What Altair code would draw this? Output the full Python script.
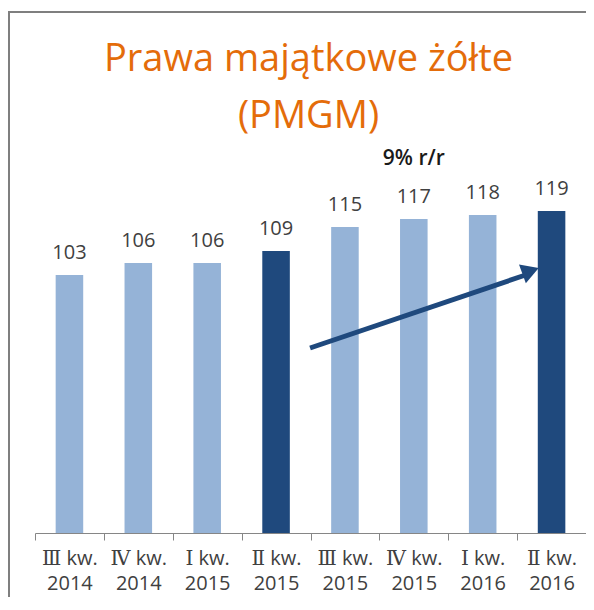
import altair as alt
import pandas as pd

# ---- data ----
quarters = ["Ⅲ kw.", "Ⅳ kw.", "Ⅰ kw.", "Ⅱ kw.", "Ⅲ kw.", "Ⅳ kw.", "Ⅰ kw.", "Ⅱ kw."]
years = ["2014", "2014", "2015", "2015", "2015", "2015", "2016", "2016"]
values = [103, 106, 106, 109, 115, 117, 118, 119]
kinds = ["base", "base", "base", "hl", "base", "base", "base", "hl"]

categories = [f"{q}|{y}" for q, y in zip(quarters, years)]

title_lines = ["Prawa majątkowe żółte", "(PMGM)"]
title_levels = [154.0, 139.75]   # vertical placement of title lines, in value units

Y_MIN = 38.5
Y_MAX = 135

# annotation (arrow from bar 4 to bar 8, and the growth text)
arrow_from = [categories[3], 84.75]
arrow_to = [categories[7], 103.0]
head_at = [categories[7], 104.0]
note_text = ["9% r/r"]
note_at = [categories[5], 130.5]

df = pd.DataFrame({"cat": categories, "value": values, "kind": kinds})
arrow_df = pd.DataFrame({"x": [arrow_from[0]], "y": [arrow_from[1]],
                         "x2": [arrow_to[0]], "y2": [arrow_to[1]]})
head_df = pd.DataFrame({"x": [head_at[0]], "y": [head_at[1]]})
note_df = pd.DataFrame({"x": [note_at[0]], "y": [note_at[1]], "t": note_text})
title_df = pd.DataFrame({"t": title_lines, "y": title_levels})

W, H = 551, 386

xscale = alt.Scale(domain=categories, paddingInner=0, paddingOuter=0)
yscale = alt.Scale(domain=[Y_MIN, Y_MAX], zero=False, nice=False)

x_enc = alt.X("cat:N", scale=xscale, sort=None, axis=alt.Axis(
    title=None, labelAngle=0, labelExpr="split(datum.label, '|')",
    labelFont="Open Sans, DejaVu Serif", labelFontSize=20, labelColor="#404040",
    labelLineHeight=25, labelPadding=8, tickBand="extent", tickSize=7,
    tickColor="#868686", domainColor="#868686", grid=False))

frame = alt.Chart(df).mark_rect(filled=False, stroke="#7f7f7f", strokeWidth=2).encode(
    x=alt.value(-26), x2=alt.value(W + 200), y=alt.value(-135), y2=alt.value(H + 300))

bars = alt.Chart(df).mark_bar(width=alt.RelativeBandSize(0.4)).encode(
    x=x_enc,
    y=alt.Y("value:Q", scale=yscale, axis=None),
    y2=alt.datum(Y_MIN),
    color=alt.Color("kind:N", scale=alt.Scale(domain=["base", "hl"],
                                              range=["#95B3D7", "#1F497D"]), legend=None),
)

labels = alt.Chart(df).mark_text(font="Open Sans", fontSize=20, color="#404040",
                                 baseline="alphabetic", dy=-16).encode(
    x=alt.X("cat:N", scale=xscale, sort=None),
    y=alt.Y("value:Q", scale=yscale),
    text=alt.Text("value:Q"),
)

arrow = alt.Chart(arrow_df).mark_rule(color="#1F497D", strokeWidth=5,
                                      xOffset=34, x2Offset=-26).encode(
    x=alt.X("x:N", scale=xscale, sort=None),
    x2="x2:N",
    y=alt.Y("y:Q", scale=yscale),
    y2="y2:Q",
)

head = alt.Chart(head_df).mark_point(shape="triangle-up", filled=True, size=400,
                                     color="#1F497D", opacity=1, angle=70,
                                     xOffset=-21).encode(
    x=alt.X("x:N", scale=xscale, sort=None),
    y=alt.Y("y:Q", scale=yscale),
)

note = alt.Chart(note_df).mark_text(font="Open Sans", fontSize=21, fontWeight=600,
                                    color="#1a1a1a", baseline="alphabetic").encode(
    x=alt.X("x:N", scale=xscale, sort=None),
    y=alt.Y("y:Q", scale=yscale),
    text="t:N",
)

title = alt.Chart(title_df).mark_text(font="Open Sans", fontSize=38, color="#E46C0A",
                                      baseline="alphabetic", align="center",
                                      dx=-2).encode(
    x=alt.value(W / 2),
    y=alt.Y("y:Q", scale=yscale),
    text="t:N",
)

chart = alt.layer(frame, bars, labels, arrow, head, note, title).properties(
    width=W, height=H,
    autosize=alt.AutoSizeParams(type="none"),
    padding={"left": 27, "top": 139, "right": 0, "bottom": 64},
).configure_view(stroke=None)

chart.save("out.html", embed_options={"renderer": "svg", "actions": False})
